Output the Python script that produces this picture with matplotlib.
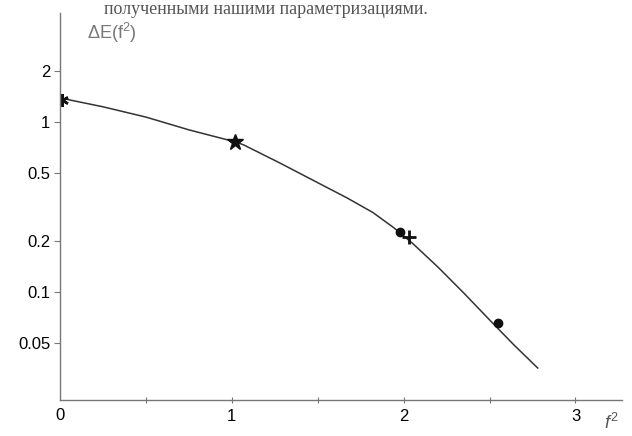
import matplotlib
matplotlib.use("Agg")
from matplotlib import pyplot as plt

# curve (f^2, dE)
curve_x = [0.01, 0.25, 0.50, 0.75, 1.03, 1.07, 1.28, 1.47, 1.67, 1.82, 1.94,
           2.05, 2.20, 2.35, 2.50, 2.64, 2.78]
curve_y = [1.38, 1.23, 1.07, 0.90, 0.76, 0.733, 0.574, 0.456, 0.358, 0.294,
           0.240, 0.194, 0.140, 0.0986, 0.0685, 0.049, 0.0357]

# measured points
star_x, star_y = [0.01], [1.35]
fstar_x, fstar_y = [1.02], [0.76]
dot_x = [1.98, 2.55]
dot_y = [0.225, 0.066]
cross_x, cross_y = [2.03], [0.211]

y_ticks = [2, 1, 0.5, 0.2, 0.1, 0.05]
y_labels = ["2", "1", "0.5", "0.2", "0.1", "0.05"]
x_ticks = [1, 2, 3]
x_minor = [0.5, 1.5, 2.5]

plt.rcParams['font.family'] = ['Liberation Sans', 'DejaVu Sans']
plt.rcParams['mathtext.fontset'] = 'custom'
plt.rcParams['mathtext.rm'] = 'Liberation Sans'
plt.rcParams['mathtext.it'] = 'Liberation Sans:italic'

fig = plt.figure(figsize=(6.32, 4.36), dpi=100)
ax = fig.add_axes([0.095, 0.083, 0.889, 0.887])

ax.plot(curve_x, curve_y, color='#333333', lw=1.1)
ax.plot(star_x, star_y, marker=(6, 2, 0), ms=9, mew=1.8, color='#111111', ls='none')
ax.plot(fstar_x, fstar_y, marker='*', ms=12, color='#111111', ls='none')
ax.plot(dot_x, dot_y, marker='o', ms=6, color='#111111', ls='none')
ax.plot(cross_x, cross_y, marker='+', ms=10, mew=2, color='#111111', ls='none')

ax.set_yscale('log')
ax.set_xlim(0, 3.27)
ax.set_ylim(0.0232, 4.38)

ax.set_yticks(y_ticks)
ax.set_yticklabels(y_labels)
ax.yaxis.set_minor_locator(matplotlib.ticker.NullLocator())
ax.set_xticks(x_ticks)
ax.set_xticks(x_minor, minor=True)
ax.tick_params(axis='y', direction='out', length=4, width=0.8, color='#777777',
               labelsize=12, pad=3)
ax.tick_params(axis='x', which='both', direction='inout', length=5, width=0.8,
               color='#777777', labelsize=12, pad=4)

for side in ['top', 'right']:
    ax.spines[side].set_visible(False)
for side in ['left', 'bottom']:
    ax.spines[side].set_color('#777777')
    ax.spines[side].set_linewidth(1.0)

ax.text(0, -0.022, "0", transform=ax.transAxes, ha='center', va='top', fontsize=12)
fig.text(0.138, 0.924, r"ΔE(f$^{2}$)", ha='left', va='center', fontsize=13,
         color='#777777')
fig.text(0.955, 0.03, r"$f^{2}$", ha='left', va='center', fontsize=13,
         color='#555555')
fig.text(0.165, 0.998, "полученными нашими параметризациями.", ha='left',
         va='top', fontsize=13, family='Liberation Serif', color='#555555')

fig.savefig("out.png", dpi=100)
